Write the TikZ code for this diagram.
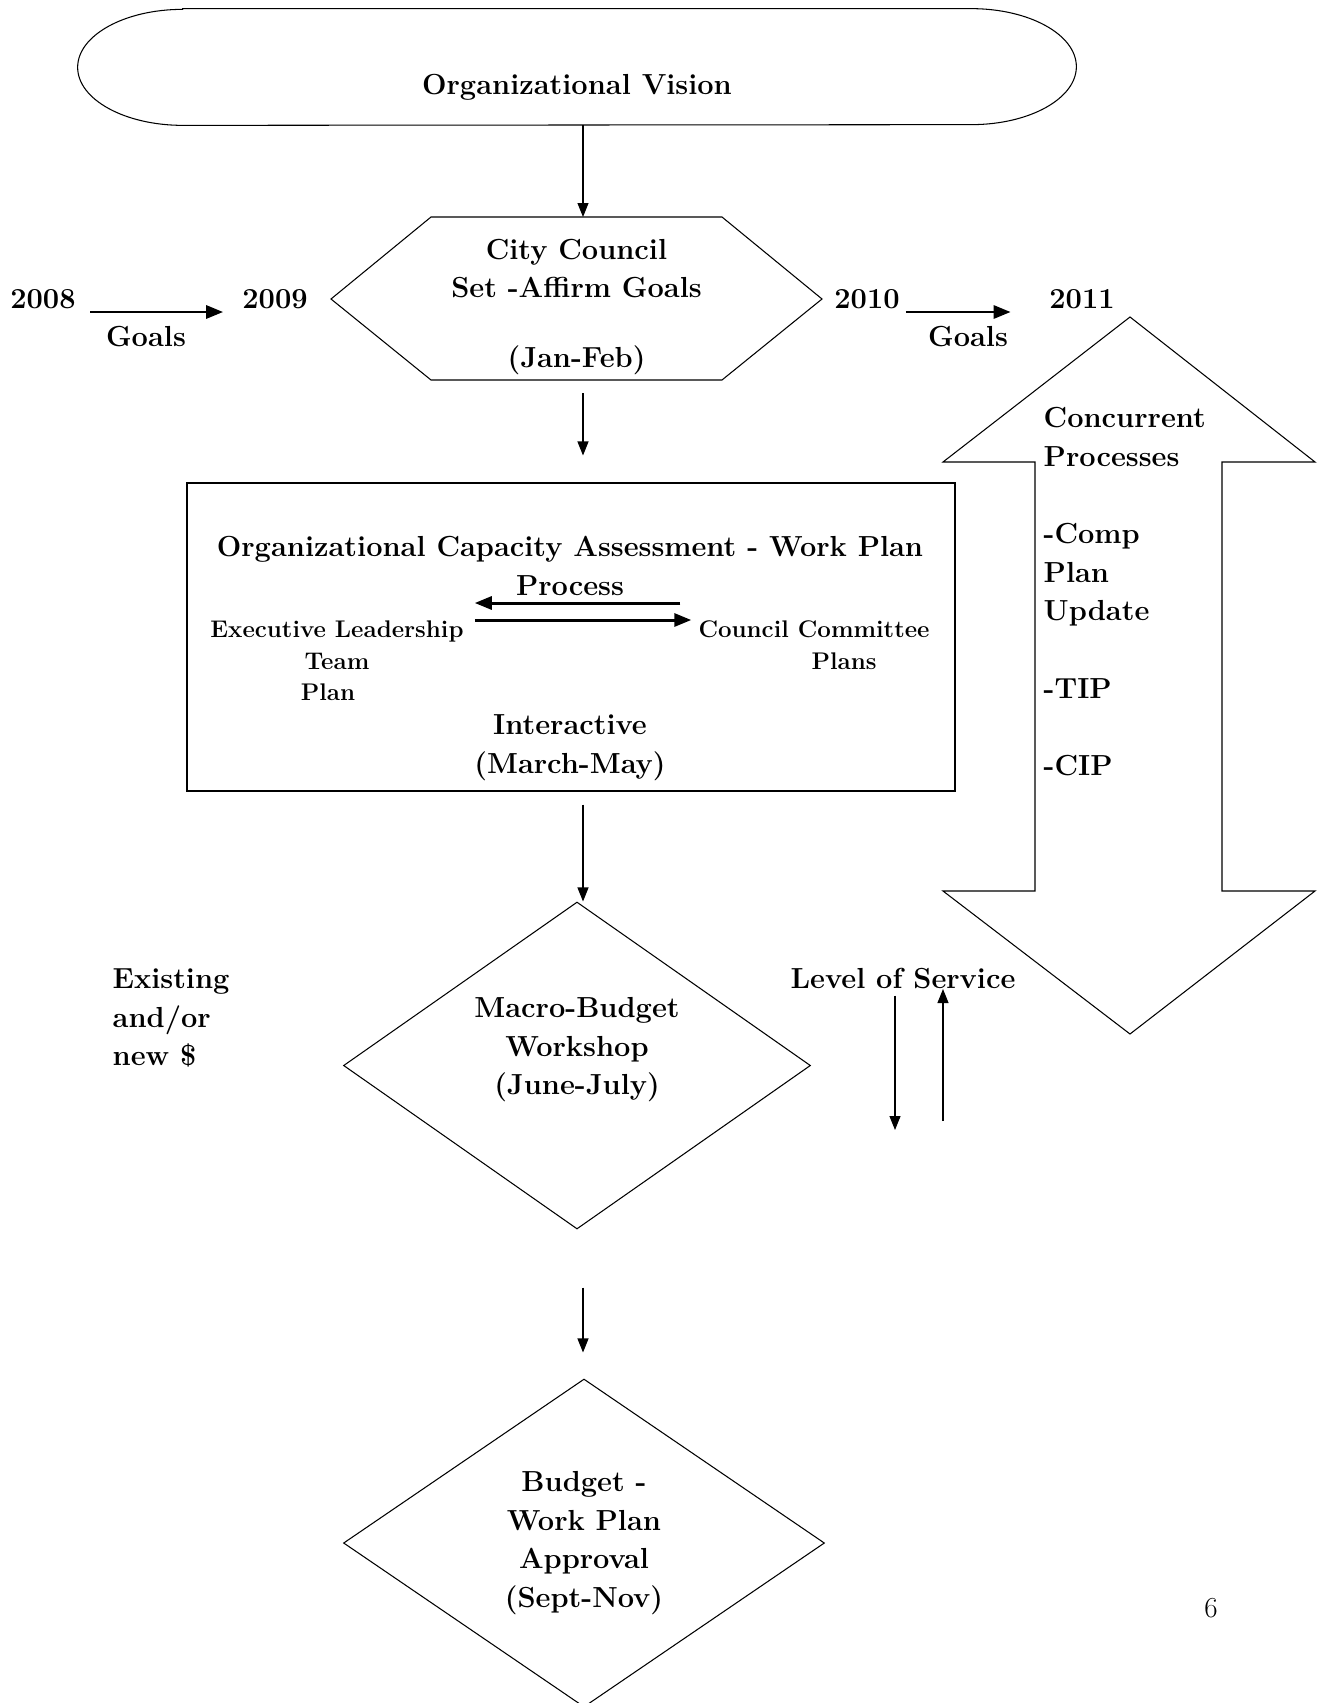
\documentclass[tikz,border=0pt]{standalone}
\usepackage{tikz}
\usetikzlibrary{positioning, arrows.meta, shapes.geometric}

\begin{document}
\begin{tikzpicture}[
    every node/.style={font=\fontsize{16.5pt}{22pt}\selectfont\bfseries, align=center},
    smalltext/.style={font=\fontsize{13.7pt}{18pt}\selectfont\bfseries},
    outline/.style={draw, line width=0.6pt},
    flow/.style={-{Triangle[length=0.28cm, width=0.22cm]}, line width=0.6pt},
    boldflow/.style={-{Triangle[length=0.34cm, width=0.26cm]}, line width=1.7pt},
    decision/.style={outline, diamond, inner sep=0pt}
]
    \useasboundingbox (0,0) rectangle (26.42,-34.06);

    % Vision
    \node (vision) at (11.54,-1.34) [minimum width=19.96cm, minimum height=2.32cm, inner sep=0pt] {};
    \draw[outline] ([xshift=2.1cm]vision.north west) -- ([xshift=-2.1cm]vision.north east)
        arc[start angle=90, end angle=-90, x radius=2.1cm, y radius=1.16cm]
        -- ([xshift=2.1cm]vision.south west)
        arc[start angle=270, end angle=90, x radius=2.1cm, y radius=1.16cm] -- cycle;
    \node (visiontext) at (11.54,-1.74) {Organizational Vision};

    % Council goals
    \draw[outline] (6.62,-5.98) -- (8.62,-4.34) -- (14.44,-4.34) -- (16.44,-5.98) -- (14.44,-7.60) -- (8.62,-7.60) -- cycle;
    \node (council) at (11.53,-6.14) {City Council\\Set -Affirm Goals\\[18pt](Jan-Feb)};
    \coordinate (hextop) at (11.66,-4.34);
    \coordinate (hexbottom) at (11.66,-7.60);
    \draw[flow] (vision.south -| hextop) -- (hextop);

    % Years
    \node (y2008) at (0.86,-5.98) {2008};
    \node (y2009) at (5.50,-5.98) {2009};
    \node (y2010) at (17.34,-5.98) {2010};
    \node (y2011) at (21.64,-5.98) {2011};
    \node (goals1) at (2.92,-6.74) {Goals};
    \node (goals2) at (19.36,-6.74) {Goals};
    \draw[boldflow] ([xshift=0.17cm, yshift=-0.26cm]y2008.east) -- ([xshift=-0.26cm, yshift=-0.26cm]y2009.west);
    \draw[boldflow] ([yshift=-0.26cm]y2010.east) -- ([xshift=-0.65cm, yshift=-0.26cm]y2011.west);

    % Capacity assessment
    \node (box) at (11.42,-12.74) [outline, rectangle, minimum width=15.36cm, minimum height=6.16cm] {};
    \draw[flow] ([yshift=-0.26cm]hexbottom) -- ([yshift=0.54cm]box.north -| hexbottom);
    \node (ocap) at (11.40,-11.32) {Organizational Capacity Assessment - Work Plan\\Process};
    \node (exec) at (6.74,-13.22) [smalltext] {Executive Leadership\\Team\hspace*{0.36cm}\\Plan\hspace*{0.36cm}};
    \node (ccp) at (16.28,-12.90) [smalltext] {Council Committee\\\hspace*{1.2cm}Plans};
    \draw[boldflow] ([xshift=-0.24cm, yshift=0.84cm]ccp.west) coordinate (c1) -- ([xshift=0.1cm]exec.east |- c1);
    \draw[boldflow] ([xshift=0.1cm, yshift=0.82cm]exec.east) coordinate (e1) -- ([xshift=-0.02cm]ccp.west |- e1);
    \node (interactive) at (11.40,-14.96) {Interactive\\(March-May)};

    % Macro budget
    \node (macro) at (11.54,-21.31) [decision, shape aspect=1.43, minimum width=9.34cm, minimum height=6.54cm] {Macro-Budget\\Workshop\\(June-July)\\\mbox{}};
    \draw[flow] ([yshift=-0.26cm]box.south -| hextop) -- (macro.north -| hextop);
    \node (funds) at (2.13,-20.36) [anchor=west, align=left] {Existing\\and/or\\new \$};
    \node (los) at (18.06,-19.58) {Level of Service};
    \coordinate (losdown) at (17.90,-22.60);
    \coordinate (losup) at (18.86,-22.42);
    \draw[flow] (los.south -| losdown) -- (losdown);
    \draw[flow] (losup) -- ([yshift=0.13cm]los.south -| losup);

    % Concurrent processes
    \draw[outline] (22.60,-6.34) -- (26.30,-9.24) -- (24.44,-9.24) -- (24.44,-17.82) -- (26.30,-17.82)
        -- (22.60,-20.68) -- (18.86,-17.82) -- (20.70,-17.82) -- (20.70,-9.24) -- (18.86,-9.24) -- cycle;
    \node (concurrent) at (20.75,-11.83) [anchor=west, align=left] {Concurrent\\Processes\\[22pt]-Comp\\Plan\\Update\\[22pt]-TIP\\[22pt]-CIP};

    % Approval
    \node (approval) at (11.68,-30.86) [decision, shape aspect=1.47, minimum width=9.62cm, minimum height=6.56cm] {Budget -\\Work Plan\\Approval\\(Sept-Nov)};
    \draw[flow] ([yshift=-1.16cm]macro.south -| hextop) -- ([yshift=0.52cm]approval.north -| hextop);

    \node (pagenum) at (24.22,-32.16) [font=\fontsize{16.5pt}{22pt}\selectfont] {6};
\end{tikzpicture}
\end{document}
